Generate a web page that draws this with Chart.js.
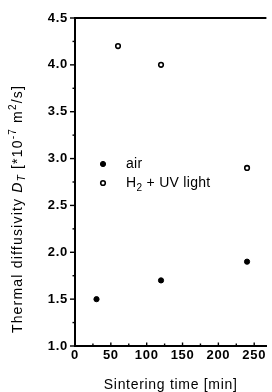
<!DOCTYPE html>
<html>
<head>
<meta charset="utf-8">
<script src="https://cdn.jsdelivr.net/npm/chart.js@4/dist/chart.umd.min.js"></script>
<style>
  html, body { margin: 0; padding: 0; background: #fff; }
  #c { display: block; }
</style>
</head>
<body>
<canvas id="c" width="272" height="392"></canvas>
<script>
// ---- data ----
const airTime = [30, 120, 240];
const airDiffusivity = [1.5, 1.7, 1.9];
const h2Time = [60, 120, 240];
const h2Diffusivity = [4.2, 4.0, 2.9];
const xTickValues = [0, 50, 100, 150, 200, 250];
const yTickValues = [1.0, 1.5, 2.0, 2.5, 3.0, 3.5, 4.0, 4.5];
const seriesLabels = ['air', 'H\u2082 + UV light'];
const xTitle = 'Sintering time [min]';

const FONT = '"Liberation Sans", Arial, Helvetica, sans-serif';

const toPoints = (xs, ys) => xs.map((x, i) => ({ x: x, y: ys[i] }));

// widen the letter spacing a little, like the scanned Helvetica
const spacingPlugin = {
  id: 'spacing',
  beforeDraw(chart) { chart.ctx.letterSpacing = '0.7px'; }
};

// plugin: frame top line + minor/major ticks
const framePlugin = {
  id: 'frame',
  afterDraw(chart) {
    const ctx = chart.ctx;
    const a = chart.chartArea;
    const xs = chart.scales.x, ys = chart.scales.y;
    ctx.save();
    ctx.strokeStyle = '#000';
    ctx.lineWidth = 2;
    ctx.beginPath();
    ctx.moveTo(a.left - 1, a.top);
    ctx.lineTo(a.right, a.top);
    ctx.stroke();
    ctx.lineWidth = 1.4;
    // y ticks (outward): majors + minors at midpoints
    yTickValues.forEach((v, i) => {
      const p = ys.getPixelForValue(v);
      ctx.beginPath(); ctx.moveTo(a.left - 5, p); ctx.lineTo(a.left, p); ctx.stroke();
      if (i < yTickValues.length - 1) {
        const m = ys.getPixelForValue((v + yTickValues[i + 1]) / 2);
        ctx.beginPath(); ctx.moveTo(a.left - 2.5, m); ctx.lineTo(a.left, m); ctx.stroke();
      }
    });
    // x ticks (inward)
    xTickValues.forEach((v, i) => {
      const p = xs.getPixelForValue(v);
      ctx.beginPath(); ctx.moveTo(p, a.bottom); ctx.lineTo(p, a.bottom - 3.5); ctx.stroke();
      if (i < xTickValues.length - 1) {
        const m = xs.getPixelForValue((v + xTickValues[i + 1]) / 2);
        ctx.beginPath(); ctx.moveTo(m, a.bottom); ctx.lineTo(m, a.bottom - 2.5); ctx.stroke();
      }
    });
    ctx.restore();
  }
};

// plugin: rich y-axis title
const yTitlePlugin = {
  id: 'ytitle',
  afterDraw(chart) {
    const ctx = chart.ctx;
    const segs = [
      { t: 'Thermal diffusivity ', s: 14, it: false, dy: 0 },
      { t: 'D', s: 14, it: true, dy: 0 },
      { t: 'T', s: 10, it: true, dy: 4 },
      { t: ' [*10', s: 14, it: false, dy: 0 },
      { t: '-7', s: 10, it: false, dy: -5 },
      { t: ' m', s: 14, it: false, dy: 0 },
      { t: '2', s: 10, it: false, dy: -5 },
      { t: '/s]', s: 14, it: false, dy: 0 }
    ];
    ctx.save();
    ctx.letterSpacing = '1.2px';
    ctx.fillStyle = '#000';
    ctx.textBaseline = 'middle';
    ctx.textAlign = 'left';
    let w = 0;
    segs.forEach(g => { ctx.font = (g.it ? 'italic ' : '') + g.s + 'px ' + FONT; g.w = ctx.measureText(g.t).width; w += g.w; });
    ctx.translate(18, 209);
    ctx.rotate(-Math.PI / 2);
    let x = -w / 2;
    segs.forEach(g => {
      ctx.font = (g.it ? 'italic ' : '') + g.s + 'px ' + FONT;
      ctx.fillText(g.t, x, g.dy);
      x += g.w;
    });
    ctx.restore();
  }
};

// plugin: legend inside plot area
const legendPlugin = {
  id: 'inlegend',
  afterDraw(chart) {
    const ctx = chart.ctx;
    const a = chart.chartArea;
    const mx = a.left + 28, tx = a.left + 51;
    const rows = [a.top + 146, a.top + 165];
    ctx.save();
    ctx.letterSpacing = '0.3px';
    chart.data.datasets.forEach((ds, i) => {
      const y = rows[i];
      ctx.beginPath();
      ctx.arc(mx, y, ds.pointRadius, 0, Math.PI * 2);
      ctx.fillStyle = ds.backgroundColor;
      ctx.fill();
      ctx.lineWidth = ds.borderWidth;
      ctx.strokeStyle = ds.borderColor;
      ctx.stroke();
      ctx.fillStyle = '#000';
      ctx.textBaseline = 'middle';
      ctx.textAlign = 'left';
      ctx.font = '14px ' + FONT;
      const label = seriesLabels[i];
      if (label.indexOf('\u2082') >= 0) {
        const parts = label.split('\u2082');
        let x = tx;
        ctx.fillText(parts[0], x, y); x += ctx.measureText(parts[0]).width;
        ctx.font = '10px ' + FONT;
        ctx.fillText('2', x, y + 5); x += ctx.measureText('2').width;
        ctx.font = '14px ' + FONT;
        ctx.fillText(parts[1], x, y);
      } else {
        ctx.fillText(label, tx, y);
      }
    });
    ctx.restore();
  }
};

new Chart(document.getElementById('c'), {
  type: 'scatter',
  data: {
    datasets: [
      {
        label: seriesLabels[0],
        data: toPoints(airTime, airDiffusivity),
        pointStyle: 'circle',
        pointRadius: 2.6,
        backgroundColor: '#000',
        borderColor: '#000',
        borderWidth: 1,
        showLine: false
      },
      {
        label: seriesLabels[1],
        data: toPoints(h2Time, h2Diffusivity),
        pointStyle: 'circle',
        pointRadius: 2.3,
        backgroundColor: '#fff',
        borderColor: '#000',
        borderWidth: 1.6,
        showLine: false
      }
    ]
  },
  options: {
    responsive: false,
    devicePixelRatio: 1,
    animation: false,
    events: [],
    layout: { padding: { top: 18, right: 0, left: 0, bottom: 0 } },
    plugins: { legend: { display: false }, tooltip: { enabled: false } },
    scales: {
      x: {
        type: 'linear',
        position: 'bottom',
        min: 0,
        max: 267,
        grid: { display: false, drawTicks: false, tickLength: 0 },
        border: { display: true, color: '#000', width: 2 },
        ticks: { color: '#000', font: { family: FONT, size: 13, weight: 'bold' }, padding: 2, maxRotation: 0, autoSkip: false },
        afterBuildTicks: s => { s.ticks = xTickValues.map(v => ({ value: v })); },
        afterFit: s => { s.height = 46; },
        title: { display: true, text: xTitle, color: '#000', font: { family: FONT, size: 14, lineHeight: 1.0 }, padding: { top: 0, bottom: 0 } }
      },
      y: {
        type: 'linear',
        min: 1,
        max: 4.5,
        grid: { display: false, drawTicks: false, tickLength: 0 },
        border: { display: true, color: '#000', width: 2 },
        ticks: { color: '#000', font: { family: FONT, size: 13, weight: 'bold' }, padding: 7, callback: v => Number(v).toFixed(1) },
        afterBuildTicks: s => { s.ticks = yTickValues.map(v => ({ value: v })); },
        afterFit: s => { s.width = 75; }
      }
    }
  },
  plugins: [spacingPlugin, framePlugin, yTitlePlugin, legendPlugin]
});
</script>
</body>
</html>
